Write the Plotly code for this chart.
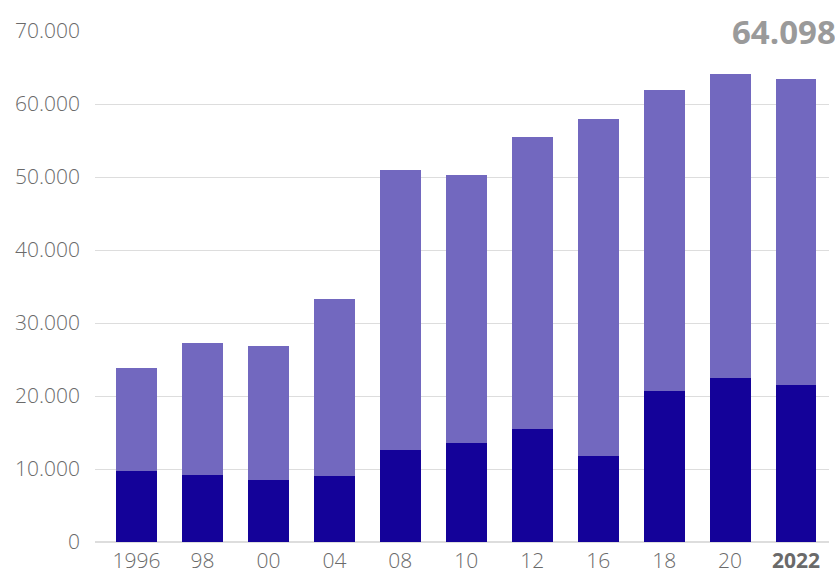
import plotly.graph_objects as go

# Categories and stacked series values
years = ["1996", "98", "00", "04", "08", "10", "12", "16", "18", "20", "2022"]
lower = [9700, 9150, 8460, 9010, 12580, 13540, 15460, 11760, 20710, 22450, 21500]
upper = [14130, 18110, 18390, 24290, 38390, 36760, 40040, 46210, 41160, 41648, 41970]
y_ticks = [0, 10000, 20000, 30000, 40000, 50000, 60000, 70000]
headline_value = 64098

x = list(range(len(years)))
tick_text = [f"<b>{y}</b>" if y == "2022" else y for y in years]

fig = go.Figure()
fig.add_trace(go.Bar(x=x, y=lower, marker=dict(color="#140299", line=dict(width=0)),
                     width=0.62, hoverinfo="y"))
fig.add_trace(go.Bar(x=x, y=upper, marker=dict(color="#7268BF", line=dict(width=0)),
                     width=0.62, hoverinfo="y"))

fig.add_annotation(
    text=f"<b>{headline_value:,}</b>".replace(",", "."),
    xref="paper", yref="paper", x=1.012, y=1.0,
    xanchor="right", yanchor="middle", showarrow=False,
    font=dict(size=33, color="#9a9a9a", family="Open Sans"),
)

tick_font = dict(size=21, color="#6a6a6a", family="Open Sans", weight=300)

fig.update_layout(
    barmode="stack",
    width=835, height=577,
    margin=dict(l=95, r=6, t=31, b=35, autoexpand=False),
    paper_bgcolor="white", plot_bgcolor="white",
    showlegend=False,
    separators=",.",
    font=dict(family="Open Sans", color="#6a6a6a", size=21),
    xaxis=dict(
        tickmode="array", tickvals=x, ticktext=tick_text,
        range=[-0.63, 10.5], showgrid=False, zeroline=False, automargin=False,
        ticks="", ticklabelstandoff=4, tickfont=tick_font,
    ),
    yaxis=dict(
        range=[0, 70000], tickvals=y_ticks, tickformat=",d", automargin=False,
        showgrid=True, gridcolor="#dddddd", gridwidth=1,
        zeroline=True, zerolinecolor="#dddddd", zerolinewidth=2,
        ticks="", ticklabelstandoff=14, tickfont=tick_font,
    ),
)

fig.write_html("out.html")
